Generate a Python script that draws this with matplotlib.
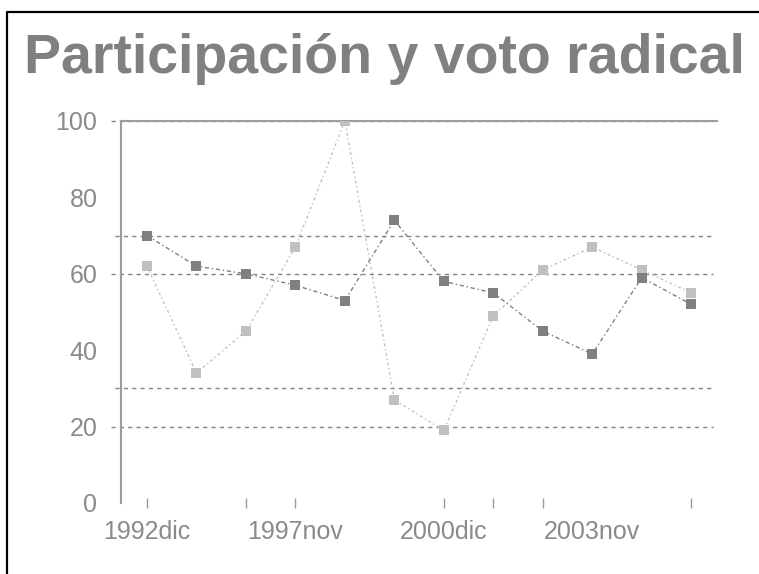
import numpy as np
import matplotlib
matplotlib.use('Agg')
import matplotlib.pyplot as plt
from matplotlib.lines import Line2D

# ── Data ───────────────────────────────────────────────────────────────────
periods = ['1992dic', '', '', '1997nov', '', '', '2000dic', '', '', '2003nov', '', '']
participacion = [70, 62, 60, 57, 53, 74, 58, 55, 45, 39, 59, 52]
voto_radical = [62, 34, 45, 67, 100, 27, 19, 49, 61, 67, 61, 55]
label_idx = [0, 3, 6, 9]
tick_idx = [0, 2, 3, 6, 7, 8, 11]
ref_lines = [100, 70, 60, 30, 20]

# ── Style ──────────────────────────────────────────────────────────────────
plt.rcParams['font.family'] = ['Liberation Sans', 'DejaVu Sans']
c_dark = '#808080'
c_light = '#c0c0c0'
c_text = '#8a8a8a'
c_axis = '#9c9c9c'

fig = plt.figure(figsize=(7.59, 5.74), dpi=100)
ax = fig.add_axes([121/759, 1 - 503/574, (717-121)/759, (503-121)/574])

x = np.arange(len(periods))

# reference dashed lines, a bit past the left spine
for v in ref_lines:
    x0 = -0.73 if v in (100, 60, 20) else -0.65
    ax.plot([x0, 11.43], [v, v], color=c_dark, lw=1.0,
            linestyle=(0, (3, 3)), clip_on=False, zorder=1)

ax.plot(x, voto_radical, color=c_light, lw=1.0, linestyle=(0, (2, 2, 1, 2)),
        marker='s', markersize=7, markeredgewidth=0, markerfacecolor=c_light, zorder=3)
ax.plot(x, participacion, color=c_dark, lw=1.0, linestyle=(0, (3, 2, 1, 2)),
        marker='s', markersize=7, markeredgewidth=0, markerfacecolor=c_dark, zorder=4)

ax.set_xlim(-0.525, 11.52)
ax.set_ylim(0, 100)

# ── Axes ───────────────────────────────────────────────────────────────────
for s in ['right', 'bottom']:
    ax.spines[s].set_visible(False)
for s in ['left', 'top']:
    ax.spines[s].set_color(c_axis)
    ax.spines[s].set_linewidth(1.5)

ax.set_yticks(np.arange(0, 101, 20))
ax.tick_params(axis='y', length=0, pad=17, labelsize=18, labelcolor=c_text)

ax.xaxis.remove_overlapping_locs = False
ax.set_xticks(label_idx)
ax.set_xticklabels([periods[i] for i in label_idx])
ax.set_xticks(tick_idx, minor=True)
ax.tick_params(axis='x', which='major', length=0, pad=12, labelsize=18, labelcolor=c_text)
ax.tick_params(axis='x', which='minor', direction='inout', length=7, width=1, color=c_axis)

# ── Title and frame ────────────────────────────────────────────────────────
fig.text(384/759, 1 - 59/574, 'Participación y voto radical', ha='center', va='center',
         fontsize=40, fontweight='bold', color=c_dark)

fig.add_artist(Line2D([7/759, 7/759, 1.0], [0.0, 1 - 12/574, 1 - 12/574],
                      transform=fig.transFigure, color='black', lw=1.6))

fig.savefig('out.png', dpi=100, facecolor='white')
plt.close(fig)
